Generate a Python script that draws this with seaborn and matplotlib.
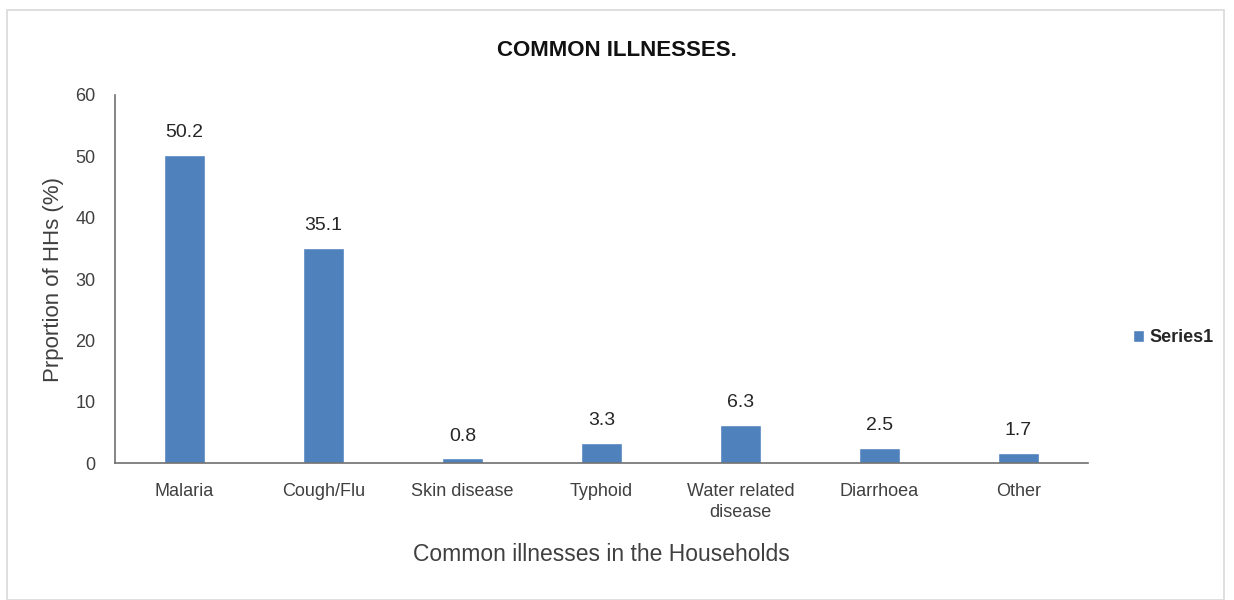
import matplotlib
matplotlib.use("Agg")
import matplotlib.pyplot as plt
import seaborn as sns
import pandas as pd
from matplotlib.patches import Rectangle, Patch

categories = ["Malaria", "Cough/Flu", "Skin disease", "Typhoid", "Water related\ndisease", "Diarrhoea", "Other"]
values = [50.2, 35.1, 0.8, 3.3, 6.3, 2.5, 1.7]
series_name = "Series1"

df = pd.DataFrame({"illness": categories, "value": values})

sns.set_theme(style="white")
plt.rcParams['font.family'] = ['Liberation Sans', 'DejaVu Sans']

fig = plt.figure(figsize=(12.34, 6), dpi=100)
ax = fig.add_axes([0.0932, 0.228, 0.7885, 0.614])

bar_color = "#4F81BD"
sns.barplot(data=df, x="illness", y="value", color=bar_color, width=0.3, ax=ax, saturation=1)

ax.set_xlim(-0.5, len(categories) - 0.5)
ax.set_ylim(0, 60)
ax.set_yticks(range(0, 61, 10))
ax.set_xticks(range(len(categories)))
ax.set_xticklabels(categories, fontsize=13, color="#404040", linespacing=1.3)
ax.set_xticks([i + 0.5 for i in range(-1, len(categories))], minor=True)
ax.tick_params(axis="x", which="major", length=0, pad=14)
ax.tick_params(axis="x", which="minor", length=5, direction="in", color="#6f6f6f")
ax.tick_params(axis="y", length=5, direction="in", color="#6f6f6f", labelsize=13, labelcolor="#404040", pad=14)

for s in ["top", "right"]:
    ax.spines[s].set_visible(False)
for s in ["left", "bottom"]:
    ax.spines[s].set_color("#6f6f6f")
    ax.spines[s].set_linewidth(1.2)

for i, v in enumerate(values):
    ax.text(i, v + 2.2, f"{v}", ha="center", va="bottom", fontsize=14, color="#262626")

ax.set_xlabel("Common illnesses in the Households", fontsize=16.5, color="#404040", labelpad=16)
ax.set_ylabel("Prportion of HHs (%)", fontsize=16, color="#404040", labelpad=8)
fig.text(0.5, 0.915, "COMMON ILLNESSES.", ha="center", va="center", fontsize=16, fontweight="bold", color="#111111")

fig.legend(handles=[Patch(facecolor=bar_color, label=series_name)], loc="center left",
           bbox_to_anchor=(0.905, 0.437), frameon=False, handlelength=0.6, handleheight=0.6,
           handletextpad=0.3, prop={"size": 13, "weight": "bold"})

fig.patches.append(Rectangle((0.006, 0.0), 0.986, 0.983, transform=fig.transFigure,
                             fill=False, edgecolor="#d9d9d9", linewidth=1.2))

fig.savefig("out.png", dpi=100)
